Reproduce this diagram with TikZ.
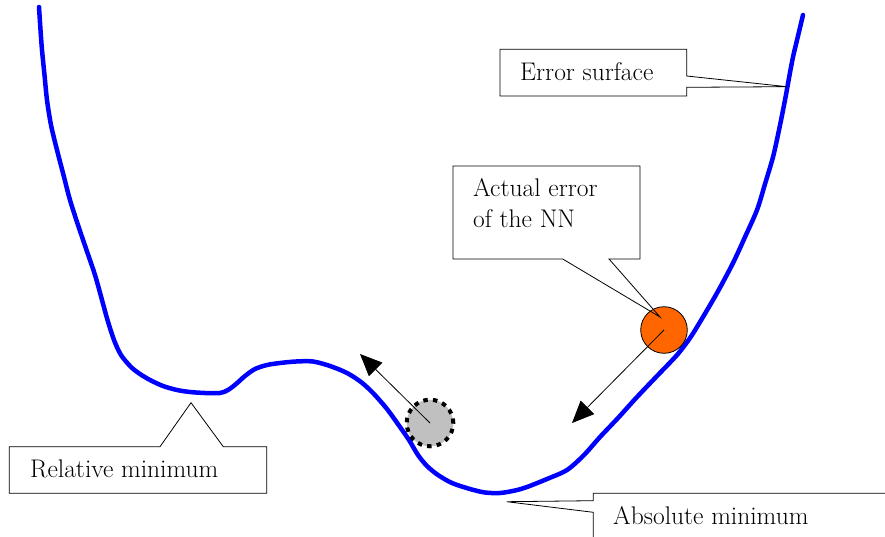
\documentclass[tikz,border=0pt]{standalone}
\usetikzlibrary{arrows.meta}
\definecolor{surf}{RGB}{0,0,255}
\definecolor{ballor}{RGB}{255,102,0}
\definecolor{ballgr}{RGB}{192,192,192}
\tikzset{
  surface/.style={draw=surf, line width=4.5pt, line join=round, line cap=round},
  callout/.style={draw=black, line width=0.8pt, line join=miter},
  calltext/.style={inner sep=0pt, anchor=base west, font=\rmfamily\fontsize{25.5}{31}\selectfont, align=left},
  movearrow/.style={draw=black, line width=0.8pt, -{Triangle[length=22pt,width=19pt]}},
}
\begin{document}
\begin{tikzpicture}[x=1pt,y=-1pt]
\useasboundingbox (0,0) rectangle (885,537);
% error surface
\draw[surface] plot[smooth, tension=0.5] coordinates {
 (39,7) (40.5,30) (42,50) (44.5,75) (47,100) (51,125) (57,150) (63.5,175) (70,200)
 (78,225) (86.5,250) (95,275) (102,300) (107.5,320) (114,340) (121,355) (131,367)
 (140,374) (150,380) (163,386) (177,390) (190,392) (205,393) (220,393) (228,390)
 (236,384) (245,376) (255,369) (267,365) (280,363) (296,361.5) (313,361.5) (330,366)
 (347,373) (361,382) (373,393) (387,409) (400,427) (409,440) (418,455) (427,466)
 (438,475) (452,483) (470,489) (485,492.5) (500,493) (515,490.5) (527,487) (547,479)
 (567,470) (584,455) (600,437) (618,418) (637,397) (657,376) (677,355) (690,338)
 (700,322) (717,293) (733,263) (745,237) (757,210) (765,184) (773,157) (779,130)
 (785,100) (789,78) (793,57) (798,36) (803,15)};
% balls
\node[circle, minimum size=46.6pt, inner sep=0pt, fill=ballor, draw=black, line width=0.8pt] (nn) at (664,330) {};
\node[circle, minimum size=46.6pt, inner sep=0pt, fill=ballgr, draw=black, line width=4pt, dash pattern=on 4.5pt off 5.2pt] (gb) at (430,423) {};
\coordinate (nntip) at (572,423);
\coordinate (gbtip) at (360,354);
\draw[movearrow] (nn.center) -- (nntip);
\draw[movearrow] (gb.center) -- (gbtip);
% callouts
\draw[callout] (500,49.3) -- (686.7,49.3) -- (686.7,76) -- (787,86.7) -- (686.7,87.3) -- (686.7,96) -- (500,96) -- cycle;
\draw[callout] (453,166) -- (640,166) -- (640,259) -- (609,259) -- (660,317) -- (562.7,259) -- (453,259) -- cycle;
\draw[callout] (9.3,446.7) -- (160,446.7) -- (191,402.7) -- (223.3,446.7) -- (266.7,446.7) -- (266.7,493.3) -- (9.3,493.3) -- cycle;
\draw[callout] (593.3,537) -- (593.3,512.3) -- (506.7,501.7) -- (593.3,500.7) -- (593.3,493.3) -- (885,493.3);
% labels
\node[calltext] (es) at (520,80.7) {Error surface};
\node[calltext] (ae) at (473,228) {Actual error\\of the NN};
\node[calltext] (rm) at (30,477) {Relative minimum};
\node[calltext] (am) at (613,524) {Absolute minimum};
\end{tikzpicture}
\end{document}
